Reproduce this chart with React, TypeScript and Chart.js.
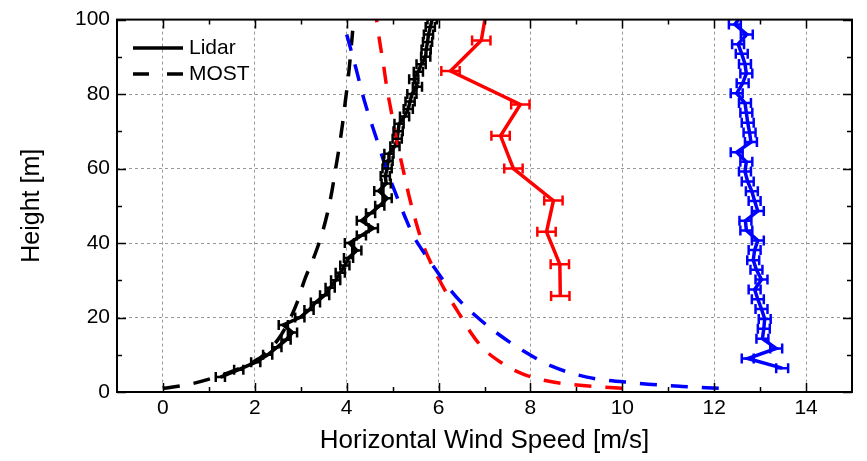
import { useEffect, useRef } from 'react';
import { Chart, registerables } from 'chart.js';

Chart.register(...registerables);

// ---- axis ticks ----
const xMajorTicks = [0, 2, 4, 6, 8, 10, 12, 14];
const xMinorTicks = [1, 3, 5, 7, 9, 11, 13];
const yMajorTicks = [0, 20, 40, 60, 80, 100];
const yMinorTicks = [10, 30, 50, 70, 90];

// ---- Lidar (black, measured) ----
const lidarHeights = [4, 6, 8, 10, 12, 14, 16, 18, 20, 22, 24, 26, 28, 30, 32, 34, 36, 38, 40, 42, 44, 46, 48, 50, 52, 54, 56, 58, 60, 62, 64, 66, 68, 70, 72, 74, 76, 78, 80, 82, 84, 86, 88, 90, 92, 94, 96, 98, 100];
const lidarSpeeds = [1.25, 1.65, 2.02, 2.28, 2.48, 2.68, 2.82, 2.62, 2.98, 3.18, 3.32, 3.52, 3.64, 3.76, 3.86, 3.96, 4.04, 4.22, 4.06, 4.32, 4.58, 4.32, 4.52, 4.72, 4.88, 4.7, 4.86, 4.84, 4.88, 4.9, 4.92, 5.05, 5.1, 5.12, 5.14, 5.26, 5.34, 5.38, 5.42, 5.54, 5.46, 5.56, 5.62, 5.72, 5.73, 5.76, 5.78, 5.82, 5.86];
const lidarErrors = [0.1, 0.1, 0.1, 0.1, 0.1, 0.1, 0.1, 0.1, 0.1, 0.1, 0.1, 0.1, 0.1, 0.1, 0.1, 0.1, 0.1, 0.1, 0.1, 0.1, 0.1, 0.1, 0.1, 0.1, 0.1, 0.1, 0.1, 0.1, 0.1, 0.1, 0.1, 0.1, 0.1, 0.1, 0.1, 0.1, 0.1, 0.1, 0.1, 0.1, 0.1, 0.1, 0.1, 0.1, 0.1, 0.1, 0.1, 0.1, 0.1];

// ---- red measured profile ----
const redHeights = [25.8, 34.3, 43, 51.4, 60, 68.8, 77.2, 86.2, 94.4, 103];
const redSpeeds = [8.65, 8.64, 8.35, 8.5, 7.63, 7.35, 7.78, 6.26, 6.93, 7.05];
const redErrors = [0.2, 0.2, 0.2, 0.2, 0.2, 0.2, 0.2, 0.2, 0.2, 0];

// ---- blue measured profile ----
const blueHeights = [6.4, 9.0, 11.7, 14.3, 17.0, 19.6, 22.3, 24.9, 27.5, 30.2, 32.8, 35.4, 38.1, 40.7, 43.4, 46.0, 48.6, 51.3, 53.9, 56.5, 59.2, 61.8, 64.4, 67.1, 69.7, 72.3, 75.0, 77.6, 80.2, 82.9, 85.5, 88.1, 90.8, 93.4, 96.0, 98.7, 101.3];
const blueSpeeds = [13.48, 12.73, 13.35, 13.05, 13.08, 13.1, 13.03, 12.95, 12.88, 13.03, 12.92, 12.85, 12.88, 12.95, 12.7, 12.68, 12.95, 12.88, 12.82, 12.73, 12.67, 12.7, 12.49, 12.8, 12.77, 12.73, 12.7, 12.67, 12.49, 12.62, 12.7, 12.67, 12.6, 12.52, 12.71, 12.45, 12.6];
const blueErrors = [0.13, 0.13, 0.13, 0.13, 0.13, 0.13, 0.13, 0.13, 0.13, 0.13, 0.13, 0.13, 0.13, 0.13, 0.13, 0.13, 0.13, 0.13, 0.13, 0.13, 0.13, 0.13, 0.13, 0.13, 0.13, 0.13, 0.13, 0.13, 0.13, 0.13, 0.13, 0.13, 0.13, 0.13, 0.13, 0.13, 0];

// ---- MOST profiles (dashed) ----
const mostBlackHeights = [1, 2, 4, 6, 8, 10, 14, 18, 24, 30, 36, 42, 48, 54, 60, 66, 72, 78, 84, 90, 97];
const mostBlackSpeeds = [0.0, 0.55, 1.15, 1.6, 1.95, 2.2, 2.5, 2.7, 2.92, 3.08, 3.28, 3.45, 3.58, 3.68, 3.76, 3.84, 3.91, 3.97, 4.03, 4.08, 4.13];

const mostRedHeights = [1, 2, 3, 5, 8, 12, 16, 20, 25, 30, 35, 40, 46, 52, 58, 64, 70, 76, 82, 88, 94, 100];
const mostRedSpeeds = [10.0, 8.9, 8.35, 7.8, 7.35, 6.95, 6.7, 6.5, 6.25, 6.02, 5.82, 5.65, 5.5, 5.37, 5.26, 5.15, 5.05, 4.96, 4.87, 4.8, 4.72, 4.65];

const mostBlueHeights = [1, 1.5, 2.4, 4, 7, 11, 16, 20, 24, 28, 33, 38, 42, 47, 51, 56, 60, 68, 78, 87, 96];
const mostBlueSpeeds = [12.1, 11.3, 10.3, 9.23, 8.45, 7.85, 7.25, 6.85, 6.5, 6.22, 5.93, 5.65, 5.45, 5.27, 5.14, 4.98, 4.86, 4.65, 4.39, 4.2, 4.0];

const legendLabels = ['Lidar', 'MOST'];
const xTitle = 'Horizontal Wind Speed [m/s]';
const yTitle = 'Height [m]';

const FONT = "'Liberation Sans', Arial, sans-serif";

const toPoints = (hs: number[], vs: number[]) => hs.map((h, i) => ({ x: vs[i], y: h }));

const errorBarPlugin = {
  id: 'errorBars',
  afterDatasetsDraw(chart: any) {
    const { ctx, chartArea, scales } = chart;
    ctx.save();
    ctx.beginPath();
    ctx.rect(chartArea.left, chartArea.top, chartArea.right - chartArea.left, chartArea.bottom - chartArea.top);
    ctx.clip();
    chart.data.datasets.forEach((ds: any) => {
      if (!ds.errors) return;
      ctx.strokeStyle = ds.borderColor;
      ctx.lineWidth = ds.errorWidth || 2;
      ctx.setLineDash([]);
      const cap = ds.capHalf || 5;
      ds.data.forEach((p: any, i: number) => {
        const e = ds.errors[i];
        if (!e) return;
        const y = scales.y.getPixelForValue(p.y);
        const x1 = scales.x.getPixelForValue(p.x - e);
        const x2 = scales.x.getPixelForValue(p.x + e);
        ctx.beginPath();
        ctx.moveTo(x1, y);
        ctx.lineTo(x2, y);
        ctx.moveTo(x1, y - cap);
        ctx.lineTo(x1, y + cap);
        ctx.moveTo(x2, y - cap);
        ctx.lineTo(x2, y + cap);
        ctx.stroke();
      });
    });
    ctx.restore();
  },
};

const framePlugin = {
  id: 'frame',
  afterDraw(chart: any) {
    const { ctx, chartArea, scales } = chart;
    const { left, right, top, bottom } = chartArea;
    ctx.save();
    ctx.setLineDash([]);
    ctx.strokeStyle = '#000';
    ctx.lineWidth = 1.5;
    const major = 9;
    const minor = 5;
    ctx.beginPath();
    const xt = (v: number, len: number) => {
      const x = Math.round(scales.x.getPixelForValue(v)) + 0.5;
      ctx.moveTo(x, bottom);
      ctx.lineTo(x, bottom - len);
      ctx.moveTo(x, top);
      ctx.lineTo(x, top + len);
    };
    const yt = (v: number, len: number) => {
      const y = Math.round(scales.y.getPixelForValue(v)) + 0.5;
      ctx.moveTo(left, y);
      ctx.lineTo(left + len, y);
      ctx.moveTo(right, y);
      ctx.lineTo(right - len, y);
    };
    xMajorTicks.forEach((v) => xt(v, major));
    xMinorTicks.forEach((v) => xt(v, minor));
    yMajorTicks.forEach((v) => yt(v, major));
    yMinorTicks.forEach((v) => yt(v, minor));
    ctx.stroke();
    ctx.lineWidth = 2;
    ctx.strokeRect(left, top, right - left, bottom - top);

    // legend
    const lx1 = left + 16;
    const lx2 = left + 66;
    const rows = [48, 74];
    ctx.lineWidth = 3.5;
    ctx.strokeStyle = '#000';
    ctx.beginPath();
    ctx.moveTo(lx1, rows[0]);
    ctx.lineTo(lx2, rows[0]);
    ctx.stroke();
    ctx.setLineDash([16, 18]);
    ctx.beginPath();
    ctx.moveTo(lx1, rows[1]);
    ctx.lineTo(lx2, rows[1]);
    ctx.stroke();
    ctx.setLineDash([]);
    ctx.fillStyle = '#000';
    ctx.font = `21px ${FONT}`;
    ctx.textBaseline = 'middle';
    ctx.textAlign = 'left';
    ctx.fillText(legendLabels[0], lx2 + 6, rows[0]);
    ctx.fillText(legendLabels[1], lx2 + 6, rows[1]);
    ctx.restore();
  },
};

export default function App() {
  const ref = useRef<HTMLCanvasElement | null>(null);
  useEffect(() => {
    if (!ref.current) return;
    const solid = (label: string, hs: number[], vs: number[], errs: number[], color: string, order: number) => ({
      label,
      data: toPoints(hs, vs),
      borderColor: color,
      backgroundColor: color,
      borderWidth: 3.5,
      showLine: true,
      pointRadius: 0,
      tension: 0,
      errors: errs,
      errorWidth: 2.5,
      capHalf: 5,
      order,
    });
    const dashed = (label: string, hs: number[], vs: number[], color: string, order: number) => ({
      label,
      data: toPoints(hs, vs),
      borderColor: color,
      backgroundColor: color,
      borderWidth: 3.5,
      borderDash: [17, 14],
      showLine: true,
      pointRadius: 0,
      tension: 0.4,
      cubicInterpolationMode: 'monotone',
      order,
    });
    const chart = new Chart(ref.current, {
      type: 'scatter',
      data: {
        datasets: [
          solid('Lidar', lidarHeights, lidarSpeeds, lidarErrors, '#000000', 6),
          solid('Lidar red', redHeights, redSpeeds, redErrors, '#ff0000', 5),
          solid('Lidar blue', blueHeights, blueSpeeds, blueErrors, '#0000ff', 4),
          dashed('MOST', mostBlackHeights, mostBlackSpeeds, '#000000', 3),
          dashed('MOST red', mostRedHeights, mostRedSpeeds, '#ff0000', 2),
          dashed('MOST blue', mostBlueHeights, mostBlueSpeeds, '#0000ff', 1),
        ] as any,
      },
      options: {
        animation: false,
        responsive: false,
        events: [],
        layout: { padding: { top: 16, right: 15, left: 0, bottom: 0 } },
        plugins: { legend: { display: false }, tooltip: { enabled: false } },
        scales: {
          x: {
            type: 'linear',
            min: -1,
            max: 15,
            afterBuildTicks: (s: any) => {
              s.ticks = xMajorTicks.map((v) => ({ value: v }));
            },
            afterFit: (s: any) => {
              s.height = 69;
            },
            grid: { color: '#999999', lineWidth: 1, drawTicks: false, tickLength: 0 },
            border: { display: false, dash: [3, 3] },
            ticks: { color: '#000', font: { family: FONT, size: 21 }, padding: 4, maxRotation: 0 },
            title: { display: true, text: xTitle, color: '#000', font: { family: FONT, size: 26 }, padding: { top: 0, bottom: 5 } },
          },
          y: {
            type: 'linear',
            min: 0,
            max: 100,
            afterBuildTicks: (s: any) => {
              s.ticks = yMajorTicks.map((v) => ({ value: v }));
            },
            afterFit: (s: any) => {
              s.width = 117;
            },
            grid: { color: '#999999', lineWidth: 1, drawTicks: false, tickLength: 0 },
            border: { display: false, dash: [3, 3] },
            ticks: { color: '#000', font: { family: FONT, size: 21 }, padding: 7 },
            title: { display: true, text: yTitle, color: '#000', font: { family: FONT, size: 25 }, padding: { top: 17, bottom: 0 } },
          },
        },
      } as any,
      plugins: [errorBarPlugin, framePlugin],
    });
    return () => chart.destroy();
  }, []);
  return (
    <div style={{ position: 'absolute', left: 0, top: 0, width: 867, height: 461, background: '#fff' }}>
      <canvas ref={ref} width={867} height={461} />
    </div>
  );
}
